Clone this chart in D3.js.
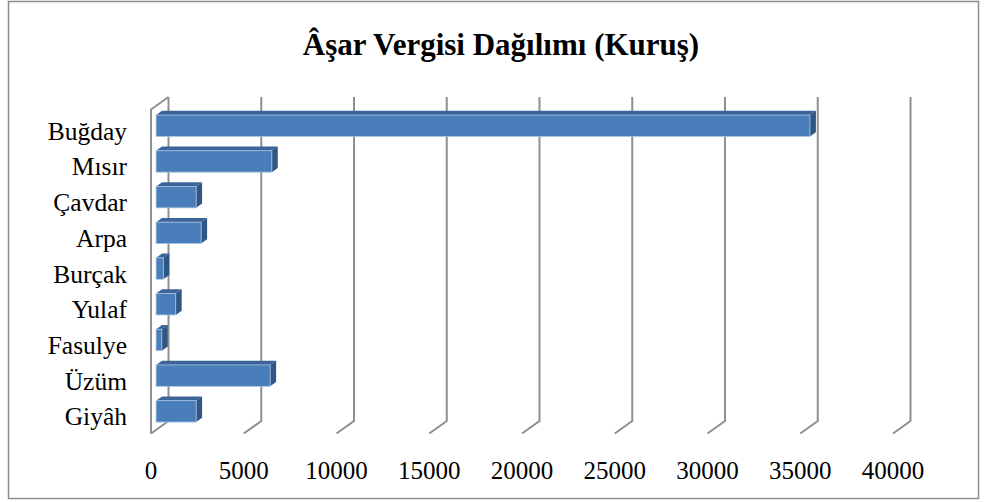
<!DOCTYPE html>
<html>
<head>
<meta charset="utf-8">
<script src="https://cdn.jsdelivr.net/npm/d3@7"></script>
<style>
  body { margin: 0; background: #fff; }
  text { font-family: "Liberation Serif", "Times New Roman", serif; fill: #000; }
</style>
</head>
<body>
<script>
const width = 989;
const height = 502;

const title = 'Âşar Vergisi Dağılımı (Kuruş)';
const categories = ['Buğday', 'Mısır', 'Çavdar', 'Arpa', 'Burçak', 'Yulaf', 'Fasulye', 'Üzüm', 'Giyâh'];
const values = [35250, 6240, 2160, 2430, 390, 1060, 310, 6150, 2160];
const ticks = [0, 5000, 10000, 15000, 20000, 25000, 30000, 35000, 40000];

// 3d depth offset of the back wall relative to the front plane
const DX = 17.5;
const DY = -12.5;
const floorY = 433.5;
const wallTop = 97;
// bar sits between these depth fractions
const barD0 = 0.29;
const barD1 = 0.63;

let svg = d3.select('body')
    .append('svg')
    .attr('width', width)
    .attr('height', height);

svg.append('rect')
    .attr('x', 8.5)
    .attr('y', 1.5)
    .attr('width', 970)
    .attr('height', 497)
    .attr('fill', '#fff')
    .attr('stroke', '#8c8c8c')
    .attr('stroke-width', 1.5);

svg.append('text')
    .attr('x', 501)
    .attr('y', 55)
    .attr('text-anchor', 'middle')
    .style('font-size', '31px')
    .style('font-weight', 'bold')
    .text(title);

let xScale = d3.scaleLinear()
    .domain([0, 40000])
    .range([151, 893]);

let yScale = d3.scaleBand()
    .domain(categories)
    .range([107.9, 429.2])
    .paddingInner(0.4)
    .paddingOuter(0.2);

// gridlines: floor diagonal + vertical on back wall
let grid = svg.append('g').classed('grid', true);
grid.selectAll('path')
    .data(ticks)
    .join('path')
    .attr('d', d => {
        let x = xScale(d);
        return `M${x},${floorY}L${x + DX},${floorY + DY}L${x + DX},${wallTop}`;
    })
    .attr('fill', 'none')
    .attr('stroke', '#8f8f8f')
    .attr('stroke-width', 2);

// left side wall
let x0 = xScale(0);
grid.append('path')
    .attr('d', `M${x0},${floorY}L${x0},${wallTop - DY}L${x0 + DX},${wallTop}`)
    .attr('fill', 'none')
    .attr('stroke', '#8f8f8f')
    .attr('stroke-width', 2);

// tick labels
svg.append('g')
    .selectAll('text')
    .data(ticks)
    .join('text')
    .attr('x', d => xScale(d))
    .attr('y', 479)
    .attr('text-anchor', 'middle')
    .style('font-size', '25px')
    .text(d => d);

// category labels
svg.append('g')
    .selectAll('text')
    .data(categories)
    .join('text')
    .attr('x', 127)
    .attr('y', d => yScale(d) + yScale.bandwidth() / 2 + 14)
    .attr('text-anchor', 'end')
    .style('font-size', '25.5px')
    .text(d => d);

// bars
let bdx = (barD1 - barD0) * DX;
let bdy = (barD1 - barD0) * DY;
let bars = svg.append('g').classed('bars', true)
    .selectAll('g')
    .data(categories.map((c, i) => ({ cat: c, value: values[i] })))
    .join('g');

bars.append('path')
    .attr('d', d => {
        let xa = xScale(0) + barD0 * DX;
        let xb = xScale(d.value) + barD0 * DX;
        let y = yScale(d.cat);
        return `M${xa},${y}L${xa + bdx},${y + bdy}L${xb + bdx},${y + bdy}L${xb},${y}Z`;
    })
    .attr('fill', '#3b6598');

bars.append('path')
    .attr('d', d => {
        let xb = xScale(d.value) + barD0 * DX;
        let y = yScale(d.cat);
        let h = yScale.bandwidth();
        return `M${xb},${y}L${xb + bdx},${y + bdy}L${xb + bdx},${y + h + bdy}L${xb},${y + h}Z`;
    })
    .attr('fill', '#2f5684');

bars.append('rect')
    .attr('x', xScale(0) + barD0 * DX)
    .attr('y', d => yScale(d.cat))
    .attr('width', d => xScale(d.value) - xScale(0))
    .attr('height', yScale.bandwidth())
    .attr('fill', '#4a7ebb')
    .attr('stroke', '#a9c4e6')
    .attr('stroke-width', 0.8);
</script>
</body>
</html>
